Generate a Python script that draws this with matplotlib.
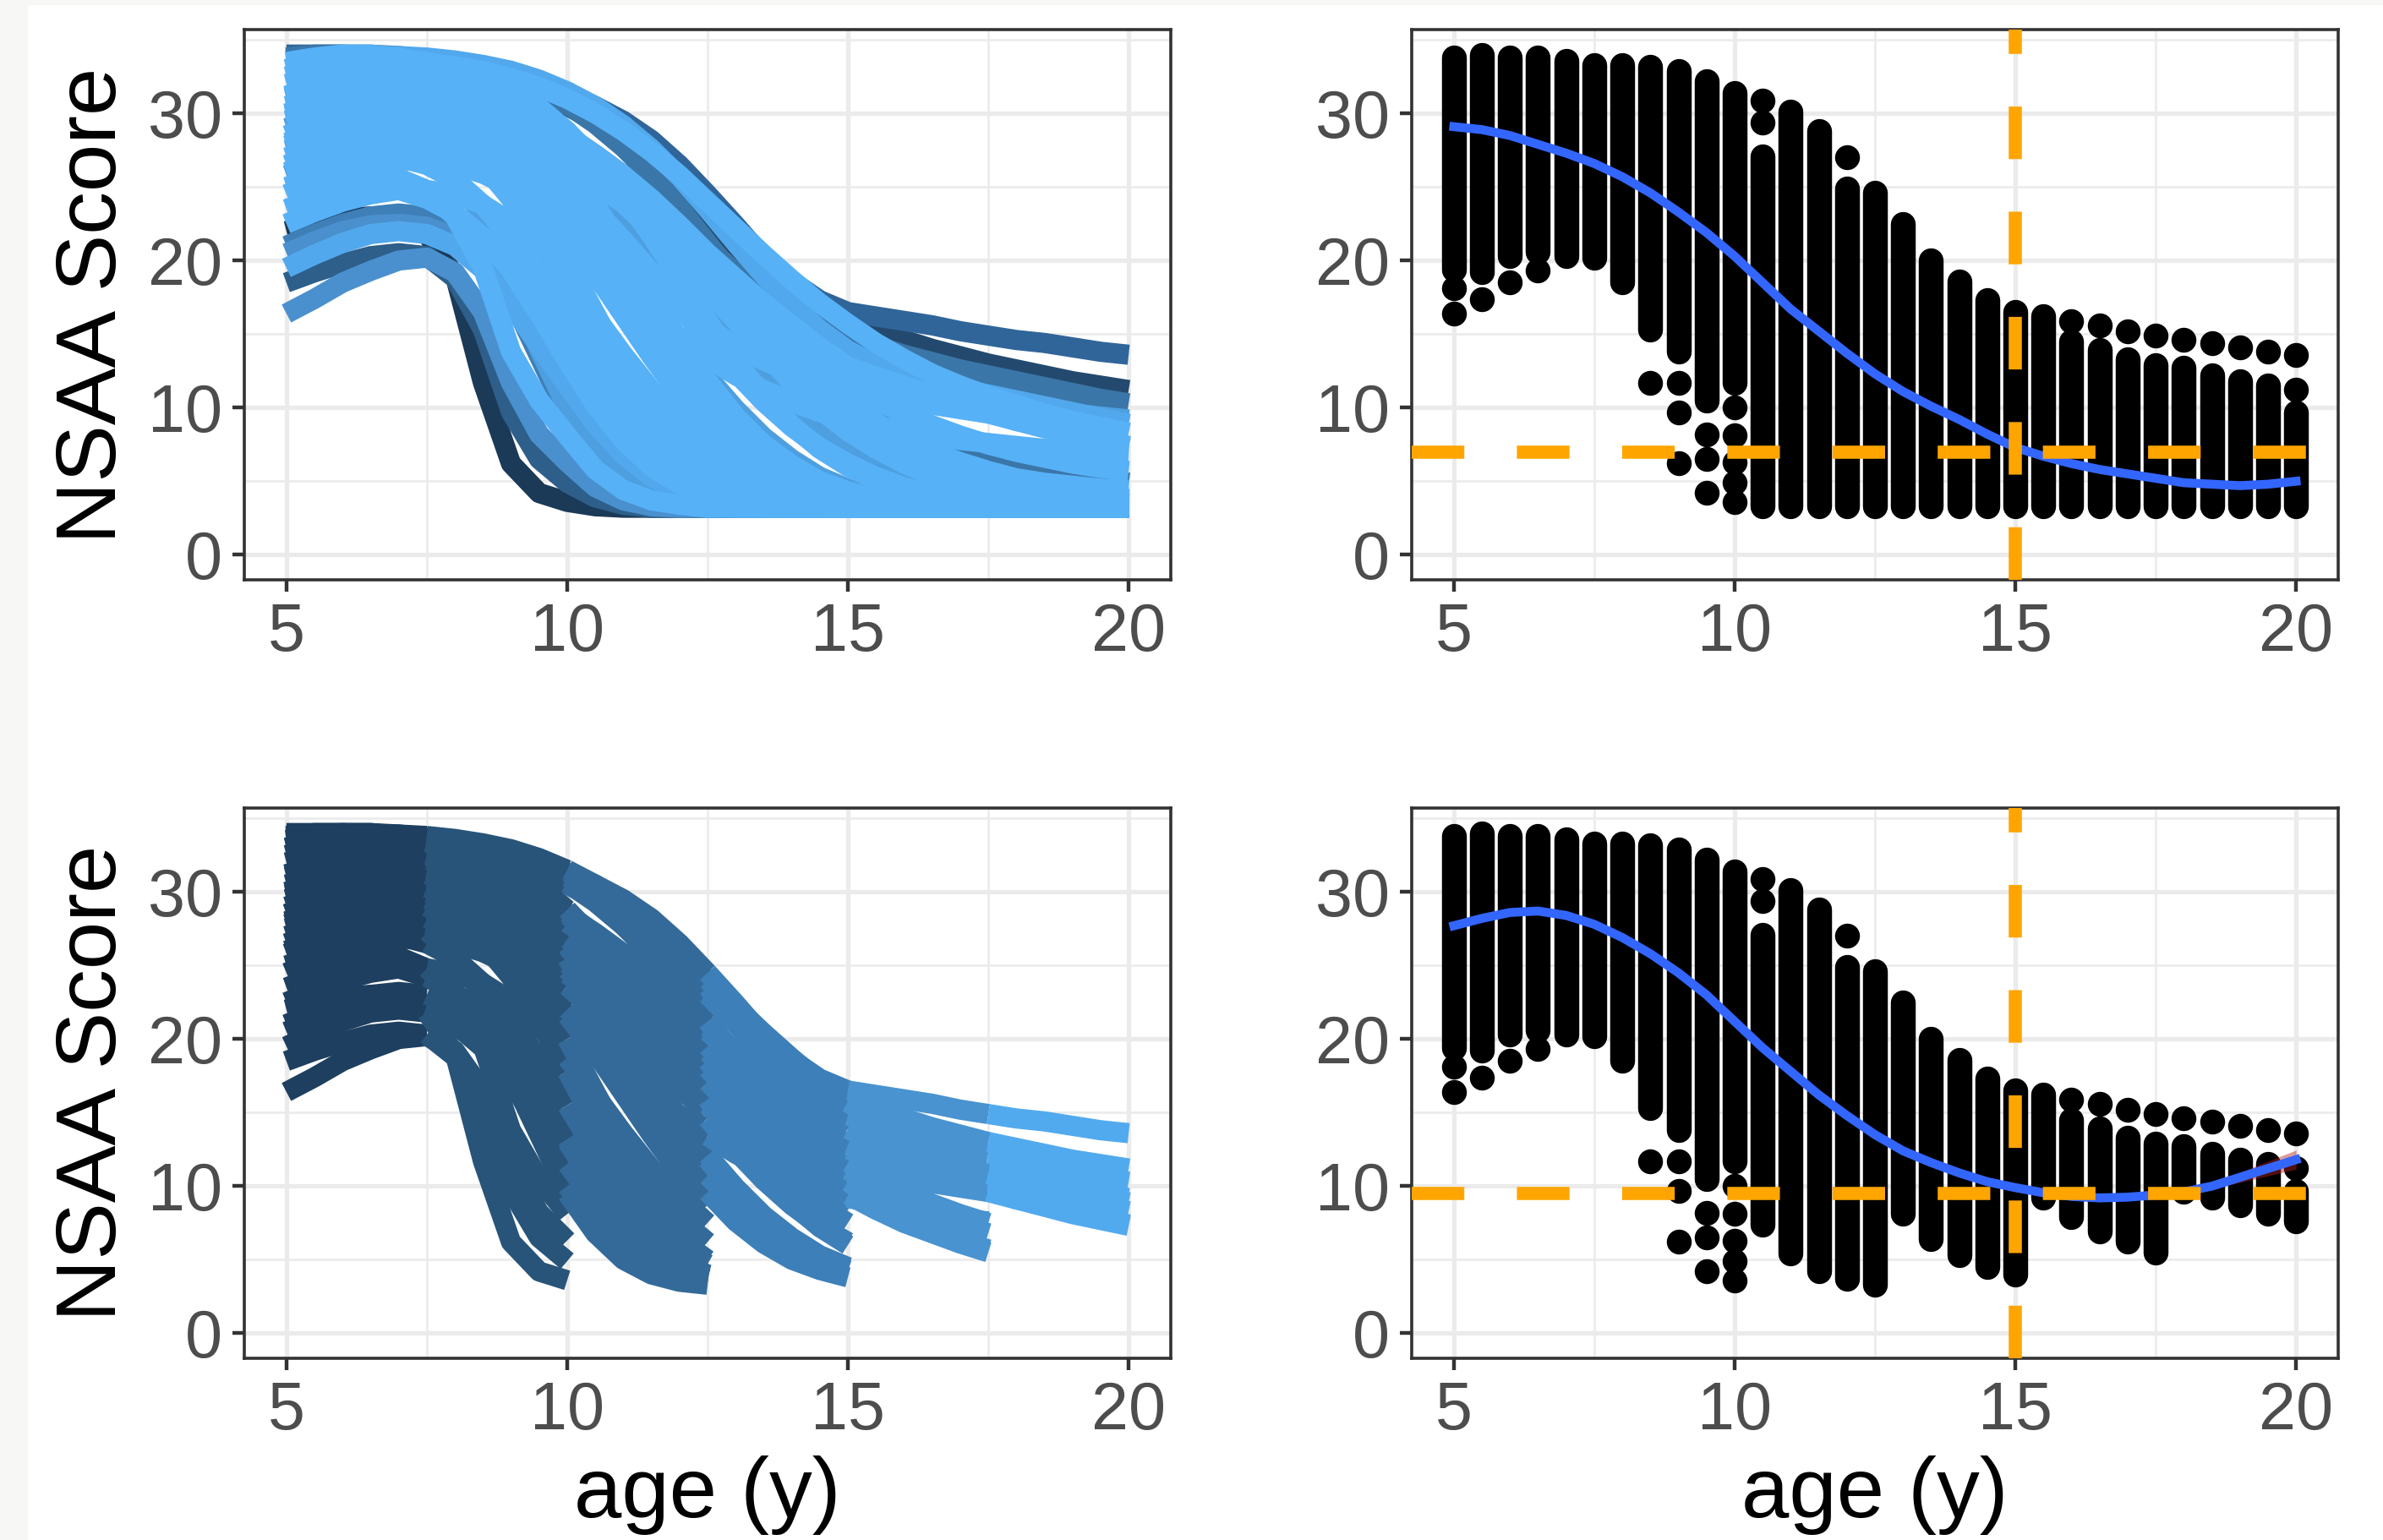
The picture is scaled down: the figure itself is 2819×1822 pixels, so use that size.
import matplotlib.pyplot as plt
from matplotlib.patches import Rectangle
from matplotlib.ticker import MultipleLocator

plt.rcParams['font.family'] = ['Liberation Sans', 'DejaVu Sans']

W, H, DPI = 2819, 1822, 200

ages = [5.0, 5.5, 6.0, 6.5, 7.0, 7.5, 8.0, 8.5, 9.0, 9.5, 10.0, 10.5, 11.0, 11.5, 12.0,
        12.5, 13.0, 13.5, 14.0, 14.5, 15.0, 15.5, 16.0, 16.5, 17.0, 17.5, 18.0, 18.5,
        19.0, 19.5, 20.0]

# NSAA trajectories, one score per half year
e1 = [22.0, 22.5, 22.9, 23.0, 22.7, 21.8, 19.0, 11.7, 6.2, 4.2, 3.6, 3.3, 3.2, 3.2, 3.2, 3.2,
      3.2, 3.2, 3.2, 3.2, 3.2, 3.2, 3.2, 3.2, 3.2, 3.2, 3.2, 3.2, 3.2, 3.2, 3.2]
e2 = [18.5, 19.2, 19.8, 20.3, 20.5, 20.3, 18.8, 15.3, 9.7, 6.5, 4.9, 3.9, 3.4, 3.2, 3.2, 3.2,
      3.2, 3.2, 3.2, 3.2, 3.2, 3.2, 3.2, 3.2, 3.2, 3.2, 3.2, 3.2, 3.2, 3.2, 3.2]
e3 = [16.4, 17.4, 18.5, 19.3, 20.0, 20.2, 19.2, 16.5, 11.7, 8.2, 6.3, 4.6, 3.7, 3.3, 3.2, 3.2,
      3.2, 3.2, 3.2, 3.2, 3.2, 3.2, 3.2, 3.2, 3.2, 3.2, 3.2, 3.2, 3.2, 3.2, 3.2]
e4 = [25.0, 25.6, 26.0, 26.0, 25.6, 24.8, 23.0, 19.5, 13.8, 10.5, 8.1, 5.8, 4.4, 3.7, 3.4, 3.2,
      3.2, 3.2, 3.2, 3.2, 3.2, 3.2, 3.2, 3.2, 3.2, 3.2, 3.2, 3.2, 3.2, 3.2, 3.2]
e5 = [27.5, 28.0, 28.3, 28.3, 28.0, 27.3, 25.8, 23.0, 18.5, 14.0, 10.0, 7.4, 5.4, 4.2, 3.7, 3.4,
      3.2, 3.2, 3.2, 3.2, 3.2, 3.2, 3.2, 3.2, 3.2, 3.2, 3.2, 3.2, 3.2, 3.2, 3.2]
e6 = [21.0, 21.8, 22.5, 23.0, 23.2, 23.0, 22.2, 20.5, 17.5, 13.5, 9.5, 6.8, 5.0, 4.0, 3.5, 3.3,
      3.2, 3.2, 3.2, 3.2, 3.2, 3.2, 3.2, 3.2, 3.2, 3.2, 3.2, 3.2, 3.2, 3.2, 3.2]
m1 = [30.0, 30.6, 31.0, 31.0, 30.8, 30.3, 29.5, 28.2, 26.3, 23.5, 20.0, 16.4, 12.9, 10.0, 7.8, 6.2,
      5.0, 4.2, 3.7, 3.4, 3.3, 3.2, 3.2, 3.2, 3.2, 3.2, 3.2, 3.2, 3.2, 3.2, 3.2]
m2 = [23.5, 24.2, 24.8, 25.0, 24.8, 24.2, 23.2, 21.6, 19.3, 16.4, 13.2, 10.2, 7.8, 6.0, 4.8, 4.0,
      3.5, 3.3, 3.2, 3.2, 3.2, 3.2, 3.2, 3.2, 3.2, 3.2, 3.2, 3.2, 3.2, 3.2, 3.2]
m3 = [33.5, 33.8, 34.0, 34.0, 33.8, 33.4, 32.8, 31.8, 30.3, 28.2, 25.5, 22.3, 18.8, 15.3, 12.2, 9.6,
      7.6, 6.1, 5.0, 4.3, 3.8, 3.5, 3.3, 3.2, 3.2, 3.2, 3.2, 3.2, 3.2, 3.2, 3.2]
m4 = [28.5, 29.2, 29.6, 29.7, 29.5, 29.0, 28.0, 26.5, 24.2, 21.2, 17.8, 14.2, 11.0, 8.3, 6.4, 5.0,
      4.1, 3.6, 3.3, 3.2, 3.2, 3.2, 3.2, 3.2, 3.2, 3.2, 3.2, 3.2, 3.2, 3.2, 3.2]
m5 = [20.5, 21.3, 22.0, 22.4, 22.5, 22.3, 21.6, 20.3, 18.4, 15.9, 13.0, 10.1, 7.6, 5.8, 4.6, 3.9,
      3.5, 3.3, 3.2, 3.2, 3.2, 3.2, 3.2, 3.2, 3.2, 3.2, 3.2, 3.2, 3.2, 3.2, 3.2]
m6 = [26.0, 26.6, 27.0, 27.2, 27.0, 26.5, 25.5, 23.8, 21.4, 18.6, 15.5, 12.4, 9.6, 7.4, 5.8, 4.7,
      4.0, 3.6, 3.3, 3.2, 3.2, 3.2, 3.2, 3.2, 3.2, 3.2, 3.2, 3.2, 3.2, 3.2, 3.2]
m7 = [19.5, 20.4, 21.2, 21.8, 22.0, 21.8, 21.0, 19.4, 17.0, 14.2, 11.5, 8.9, 6.8, 5.3, 4.3, 3.7,
      3.4, 3.2, 3.2, 3.2, 3.2, 3.2, 3.2, 3.2, 3.2, 3.2, 3.2, 3.2, 3.2, 3.2, 3.2]
n1 = [32.0, 32.5, 32.8, 32.9, 32.8, 32.5, 32.0, 31.2, 30.0, 28.4, 26.3, 23.8, 20.8, 17.7, 14.6, 11.8,
      9.4, 7.5, 6.1, 5.0, 4.3, 3.8, 3.5, 3.3, 3.2, 3.2, 3.2, 3.2, 3.2, 3.2, 3.2]
n2 = [26.5, 27.2, 27.7, 28.0, 28.0, 27.8, 27.3, 26.5, 25.3, 23.7, 21.6, 19.1, 16.3, 13.5, 10.9, 8.7,
      7.0, 5.7, 4.8, 4.1, 3.7, 3.4, 3.3, 3.2, 3.2, 3.2, 3.2, 3.2, 3.2, 3.2, 3.2]
n3 = [29.0, 29.6, 30.0, 30.2, 30.2, 30.0, 29.6, 28.9, 27.9, 26.5, 24.7, 22.5, 20.0, 17.3, 14.6, 12.1,
      9.9, 8.0, 6.5, 5.3, 4.5, 3.9, 3.5, 3.3, 3.2, 3.2, 3.2, 3.2, 3.2, 3.2, 3.2]
n4 = [24.5, 25.3, 26.0, 26.5, 26.8, 26.8, 26.5, 25.9, 25.0, 23.7, 22.0, 20.0, 17.7, 15.3, 12.9, 10.7,
      8.8, 7.2, 6.0, 5.0, 4.3, 3.8, 3.5, 3.3, 3.2, 3.2, 3.2, 3.2, 3.2, 3.2, 3.2]
n5 = [33.0, 33.4, 33.7, 33.8, 33.7, 33.5, 33.1, 32.5, 31.6, 30.4, 28.8, 26.8, 24.4, 21.7, 18.8, 15.9,
      13.2, 10.8, 8.8, 7.2, 6.0, 5.1, 4.5, 4.0, 3.7, 3.5, 3.3, 3.2, 3.2, 3.2, 3.2]
n6 = [27.8, 28.4, 28.9, 29.2, 29.3, 29.2, 28.9, 28.4, 27.6, 26.5, 25.1, 23.4, 21.4, 19.2, 16.9, 14.6,
      12.4, 10.4, 8.7, 7.3, 6.2, 5.3, 4.6, 4.1, 3.7, 3.4, 3.3, 3.2, 3.2, 3.2, 3.2]
n7 = [22.5, 23.3, 24.0, 24.5, 24.8, 24.8, 24.5, 23.8, 22.6, 20.9, 18.7, 16.2, 13.6, 11.2, 9.2, 7.5,
      6.1, 5.1, 4.4, 3.9, 3.6, 3.4, 3.3, 3.2, 3.2, 3.2, 3.2, 3.2, 3.2, 3.2, 3.2]
n8 = [26.0, 26.6, 27.1, 27.5, 27.7, 27.7, 27.5, 27.1, 26.5, 25.6, 24.4, 23.0, 21.4, 19.6, 17.6, 15.5,
      13.5, 11.7, 10.1, 8.7, 7.5, 6.5, 5.7, 5.1, 4.7, 4.4, 4.2, 4.0, 3.9, 3.8, 3.7]
l1 = [31.2, 31.8, 32.2, 32.4, 32.4, 32.2, 31.9, 31.4, 30.7, 29.8, 28.6, 27.1, 25.3, 23.2, 20.9, 18.5,
      16.1, 13.8, 11.7, 9.9, 8.4, 7.2, 6.2, 5.4, 4.8, 4.3, 3.9, 3.6, 3.4, 3.3, 3.2]
l2 = [28.5, 29.0, 29.4, 29.7, 29.8, 29.8, 29.6, 29.2, 28.6, 27.8, 26.8, 25.5, 23.9, 22.1, 20.1, 18.0,
      15.9, 13.9, 12.1, 10.6, 9.4, 8.4, 7.5, 6.8, 6.1, 5.5, 5.0, 4.6, 4.3, 4.0, 3.8]
l3 = [25.8, 26.5, 27.1, 27.6, 27.9, 28.0, 27.9, 27.6, 27.1, 26.4, 25.4, 24.2, 22.7, 21.0, 19.1, 17.1,
      15.1, 13.2, 11.5, 10.0, 8.7, 7.6, 6.7, 6.0, 5.4, 4.9, 4.5, 4.2, 3.9, 3.7, 3.5]
l4 = [33.8, 34.0, 34.0, 34.0, 33.9, 33.7, 33.4, 33.0, 32.4, 31.6, 30.6, 29.3, 27.7, 25.8, 23.6, 21.2,
      18.8, 16.5, 14.4, 12.6, 11.1, 9.9, 8.9, 8.1, 7.4, 6.8, 6.3, 5.9, 5.5, 5.2, 4.9]
l5 = [30.5, 31.0, 31.4, 31.6, 31.6, 31.5, 31.2, 30.8, 30.2, 29.4, 28.4, 27.2, 25.8, 24.2, 22.4, 20.5,
      18.8, 17.1, 15.6, 14.1, 12.8, 12.1, 11.5, 10.9, 10.3, 9.7, 9.1, 8.6, 8.1, 7.7, 7.3]
l6 = [27.0, 27.6, 28.1, 28.5, 28.7, 28.8, 28.7, 28.4, 27.9, 27.2, 26.3, 25.2, 23.9, 22.4, 20.8, 19.1,
      17.4, 15.7, 14.2, 12.8, 11.6, 10.5, 9.6, 8.8, 8.1, 7.5, 7.0, 6.6, 6.2, 5.9, 5.7]
l7 = [32.5, 33.0, 33.3, 33.5, 33.5, 33.4, 33.2, 32.9, 32.4, 31.8, 31.0, 30.0, 28.8, 27.4, 25.8, 24.0,
      22.2, 20.4, 18.7, 17.1, 15.7, 14.4, 13.3, 12.3, 11.5, 10.8, 10.2, 9.6, 9.1, 8.7, 8.3]
l8 = [29.8, 30.3, 30.7, 30.9, 31.0, 30.9, 30.7, 30.3, 29.7, 28.9, 27.9, 26.6, 25.1, 23.4, 21.5, 19.5,
      17.4, 15.4, 13.5, 11.8, 10.3, 9.0, 7.9, 7.0, 6.3, 5.7, 5.2, 4.9, 4.7, 4.5, 4.4]
l9 = [33.0, 33.5, 33.8, 33.9, 33.9, 33.8, 33.6, 33.3, 32.9, 32.3, 31.5, 30.5, 29.2, 27.6, 25.7, 23.5,
      21.2, 19.0, 17.0, 15.3, 13.9, 12.9, 12.2, 11.7, 11.3, 10.9, 10.5, 10.1, 9.7, 9.3, 8.9]
s1 = [34.0, 34.0, 34.0, 33.9, 33.8, 33.6, 33.3, 33.0, 32.6, 32.0, 31.3, 30.5, 29.5, 28.2, 26.5, 24.5,
      22.4, 20.2, 18.6, 17.3, 16.5, 16.2, 15.9, 15.6, 15.2, 14.9, 14.6, 14.4, 14.1, 13.8, 13.6]
s2 = [33.6, 33.8, 33.9, 33.8, 33.6, 33.3, 33.0, 32.6, 32.0, 31.3, 30.5, 29.5, 28.3, 26.8, 25.0, 23.0,
      21.0, 19.2, 17.8, 16.7, 15.8, 15.2, 14.6, 14.0, 13.5, 13.0, 12.6, 12.2, 11.8, 11.5, 11.2]
s3 = [32.5, 32.8, 33.0, 33.0, 32.8, 32.5, 32.0, 31.4, 30.6, 29.6, 28.5, 27.2, 25.8, 24.2, 22.5, 20.8,
      19.2, 17.8, 16.6, 15.6, 14.8, 14.2, 13.6, 13.1, 12.6, 12.2, 11.8, 11.4, 11.0, 10.6, 10.3]
s4 = [31.0, 31.5, 31.8, 31.8, 31.6, 31.2, 30.6, 29.8, 28.8, 27.6, 26.2, 24.6, 23.0, 21.3, 19.6, 18.0,
      16.5, 15.2, 14.1, 13.2, 12.5, 11.9, 11.4, 11.0, 10.6, 10.3, 10.0, 9.8, 9.6, 9.4, 9.2]
s5 = [29.5, 30.0, 30.3, 30.3, 30.0, 29.5, 28.8, 27.8, 26.6, 25.2, 23.6, 21.9, 20.2, 18.5, 16.9, 15.4,
      14.2, 13.2, 12.4, 11.8, 11.4, 11.0, 10.6, 10.2, 9.9, 9.6, 9.1, 8.7, 8.2, 7.8, 7.4]
s6 = [28.0, 28.6, 29.0, 29.0, 28.8, 28.2, 27.4, 26.3, 25.0, 23.4, 21.7, 19.9, 18.1, 16.4, 14.8, 13.4,
      12.2, 11.2, 10.4, 9.7, 9.2, 8.8, 8.4, 8.1, 7.8, 7.6, 7.4, 7.2, 7.1, 6.9, 6.8]

# drawing order: darker subjects first, light ones on top
subjects = [s2, s1, s3, l4, e1, e2, e6, e3, m5, s4, e5, n3, l3, n8, l9, m7,
            m2, e4, m1, m3, m4, m6, n1, n2, n4, n5, n6, n7, l1, l2, l5, l6, l7, l8, s5, s6]
LIGHT = '#56B1F7'
subject_colors = ['#234A6E', '#30659A', '#3B76A8', '#3B76A8', '#1B3A57', '#2D5F8A',
                  '#3F7FB7', '#4A90CE', '#4A90CE', '#4E9FDF', '#4E9FDF', '#4E9FDF', '#4E9FDF',
                  '#4E9FDF', '#52A8EC', '#52A8EC'] + [LIGHT] * 20

# follow-up windows for the bottom-left panel
window_edges = [5.0, 7.5, 10.0, 12.5, 15.0, 17.5, 20.0]
window_colors = ['#1E3F5F', '#285479', '#346A99', '#3D7FB8', '#4893D0', '#52AAEE']
THRESHOLD = 9.0  # kept into the next window only if the score at its start is >= this

# right panels: vertical run of points at each age, plus separated points
col_top = [33.8, 34.0, 33.8, 33.8, 33.6, 33.3, 33.3, 33.2, 32.9, 32.2, 31.4, 27.1, 30.1, 28.8, 24.9,
           24.6, 22.5, 20.0, 18.6, 17.3, 16.5, 16.2, 14.5, 13.9, 13.3, 12.9, 12.7, 12.2, 11.8, 11.5, 9.7]
col_low_all = [19.4, 19.2, 20.3, 20.6, 20.3, 20.2, 18.5, 15.3, 13.8, 10.5, 11.7, 3.3, 3.3, 3.3, 3.3,
               3.3, 3.3, 3.3, 3.3, 3.3, 3.3, 3.3, 3.3, 3.3, 3.3, 3.3, 3.3, 3.3, 3.3, 3.3, 3.3]
col_low_kept = [19.4, 19.2, 20.3, 20.6, 20.3, 20.2, 18.5, 15.3, 13.8, 10.5, 11.7, 7.4, 5.4, 4.2, 3.7,
                3.3, 8.1, 6.4, 5.3, 4.5, 4.0, 9.2, 7.9, 6.9, 6.2, 5.5, 9.6, 9.2, 8.7, 8.1, 7.6]
lone_age = [5.0, 5.0, 5.5, 6.0, 6.5, 8.5, 9.0, 9.0, 9.0, 9.5, 9.5, 9.5, 10.0, 10.0, 10.0, 10.0, 10.0,
            10.5, 10.5, 12.0, 16.0, 16.5, 17.0, 17.5, 18.0, 18.5, 19.0, 19.5, 20.0, 20.0]
lone_score = [18.1, 16.4, 17.4, 18.5, 19.3, 11.7, 11.7, 9.7, 6.2, 8.2, 6.5, 4.2, 10.0, 8.1, 6.3, 4.9, 3.6,
              30.9, 29.4, 27.0, 15.9, 15.6, 15.2, 14.9, 14.6, 14.4, 14.1, 13.8, 13.6, 11.2]

smooth_all = [29.1, 28.9, 28.5, 27.9, 27.3, 26.6, 25.7, 24.6, 23.3, 21.9, 20.3, 18.5, 16.7, 15.2, 13.7,
              12.3, 11.1, 10.1, 9.2, 8.2, 7.3, 6.7, 6.2, 5.8, 5.5, 5.2, 4.9, 4.8, 4.7, 4.8, 5.0]
smooth_kept = [27.7, 28.2, 28.6, 28.7, 28.4, 27.8, 26.9, 25.8, 24.5, 23.0, 21.2, 19.4, 17.8, 16.2, 14.8,
               13.5, 12.4, 11.6, 10.9, 10.3, 9.9, 9.55, 9.3, 9.2, 9.25, 9.4, 9.6, 10.0, 10.6, 11.2, 11.8]
ribbon_age = [18.0, 18.5, 19.0, 19.5, 20.0]
ribbon_low = [9.55, 9.8, 10.25, 10.7, 11.15]
ribbon_high = [9.65, 10.2, 10.95, 11.7, 12.45]

ref_age = 15
ref_score_all = 7.0
ref_score_kept = 9.5

assert all(len(s) == len(ages) for s in subjects)

LINE_W = 8.6   # trajectory thickness (pt)
DOT_PT = 10.6  # point diameter (pt)


def style_axes(ax):
    ax.set_xlim(4.25, 20.75)
    ax.set_ylim(-1.7, 35.7)
    ax.set_xticks([5, 10, 15, 20])
    ax.set_yticks([0, 10, 20, 30])
    ax.xaxis.set_minor_locator(MultipleLocator(2.5))
    ax.yaxis.set_minor_locator(MultipleLocator(5))
    ax.grid(which='major', color='#EBEBEB', lw=1.9)
    ax.grid(which='minor', color='#EBEBEB', lw=0.95)
    ax.set_axisbelow(True)
    ax.tick_params(which='major', length=5, width=1.6, color='#333333', pad=4.3,
                   labelsize=28.5, labelcolor='#4D4D4D')
    ax.tick_params(which='minor', length=0)
    for sp in ax.spines.values():
        sp.set_color('#333333')
        sp.set_linewidth(1.3)


def in_window(scores, k):
    # a subject reaches window k only if it was above threshold at every earlier edge
    for j in range(1, k + 1):
        if scores[ages.index(window_edges[j])] < THRESHOLD:
            return False
    return True


def draw_columns(ax, col_low, smooth, ref_score, ribbon=False):
    ax.vlines(ages, col_low, col_top, colors='black', lw=DOT_PT, capstyle='round', zorder=2)
    ax.scatter(lone_age, lone_score, s=DOT_PT ** 2, c='black', lw=0, zorder=2)
    if ribbon:
        ax.fill_between(ribbon_age, ribbon_low, ribbon_high, color='#B22222', alpha=0.45,
                        lw=0, zorder=2.5)
    ax.plot(ages, smooth, color='#3366FF', lw=3.8, zorder=3)
    ax.axhline(ref_score, color='#FFA500', lw=5.6, ls=(0, (4, 4)), zorder=4)
    ax.axvline(ref_age, color='#FFA500', lw=5.6, ls=(0, (4, 4)), zorder=4)


fig = plt.figure(figsize=(W / DPI, H / DPI), dpi=DPI)
fig.patch.set_facecolor('#F7F7F5')
fig.add_artist(Rectangle((33 / W, 0), 1 - 33 / W, 1 - 6 / H, transform=fig.transFigure,
                         facecolor='white', edgecolor='none', zorder=-10))

left_x, right_x = 289 / W, 1670 / W
pw = 1096 / W
top_y, bot_y = 1 - 686 / H, 1 - 1607 / H
ph = 651 / H

ax_tl = fig.add_axes([left_x, top_y, pw, ph])
ax_tr = fig.add_axes([right_x, top_y, pw, ph])
ax_bl = fig.add_axes([left_x, bot_y, pw, ph])
ax_br = fig.add_axes([right_x, bot_y, pw, ph])

# top left: all trajectories
for scores, col in zip(subjects, subject_colors):
    ax_tl.plot(ages, scores, color=col, lw=LINE_W, solid_capstyle='butt',
               solid_joinstyle='round')

# bottom left: trajectories cut into follow-up windows
for k in range(len(window_edges) - 1):
    i0 = ages.index(window_edges[k])
    i1 = ages.index(window_edges[k + 1])
    for scores in subjects:
        if in_window(scores, k):
            ax_bl.plot(ages[i0:i1 + 1], scores[i0:i1 + 1], color=window_colors[k], lw=LINE_W,
                       solid_capstyle='butt', solid_joinstyle='round')

# right: points per age with smooth
draw_columns(ax_tr, col_low_all, smooth_all, ref_score_all)
draw_columns(ax_br, col_low_kept, smooth_kept, ref_score_kept, ribbon=True)

for ax in (ax_tl, ax_tr, ax_bl, ax_br):
    style_axes(ax)

# axis titles
for cy in (361, 1281):
    fig.text(137 / W, 1 - cy / H, 'NSAA Score', rotation=90, rotation_mode='anchor',
             ha='center', va='baseline', fontsize=36.5, color='black')
for cx in (837, 2217.5):
    fig.text(cx / W, 1 - 1795 / H, 'age (y)', ha='center', va='baseline',
             fontsize=36.5, color='black')

fig.savefig('out.png', dpi=DPI, facecolor=fig.get_facecolor())
